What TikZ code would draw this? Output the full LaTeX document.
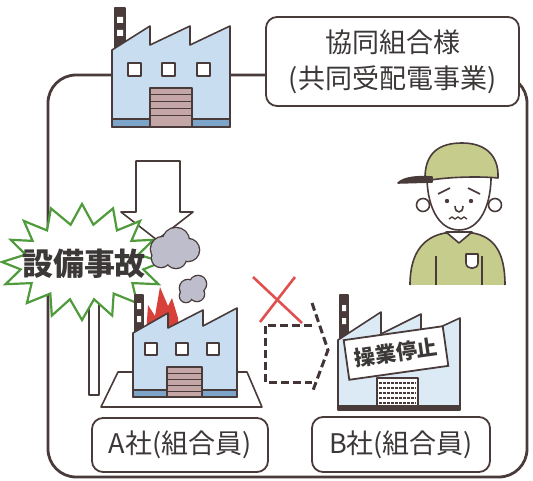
\documentclass[tikz,border=0pt]{standalone}
\usepackage{fontspec}
\newfontfamily\jp{Noto Sans CJK JP}
\usetikzlibrary{positioning}
\definecolor{ink}{HTML}{4A3B3B}
\definecolor{txt}{HTML}{3C3838}
\definecolor{wall}{HTML}{C8DEF0}
\definecolor{wallpale}{HTML}{DCEAF5}
\definecolor{band}{HTML}{7DA5CA}
\definecolor{door}{HTML}{C4A6A6}
\definecolor{leaf}{HTML}{4F9A3B}
\definecolor{smoke}{HTML}{BDBDCB}
\definecolor{fire}{HTML}{D8413A}
\definecolor{cross}{HTML}{E0504F}
\definecolor{olive}{HTML}{C5CC8C}
\begin{document}
\begin{tikzpicture}[x=1pt,y=-1pt,%
% common options for outlines:
line/.style = {draw=ink, line width=1.6pt, line join=round},
% common options for the dashed way round:
detour/.style = {draw=ink!90!black, line width=3pt, dash pattern=on 8pt off 4pt},
% common options for the rounded text boxes:
tag/.style = {draw=ink, line width=1.8pt, fill=white, rounded corners=11pt,
            align=center, text=txt, font=\jp\fontsize{27}{36}\selectfont}]
\useasboundingbox (0,0) rectangle (533,481);
% outer frame
\draw[ink, line width=2.8pt, rounded corners=28pt] (48,75) rectangle (527,477);
% pole and arrow down
\draw[line, fill=white] (89,300) rectangle (99,395);
\draw[line, fill=white] (136,161) -- (180,161) -- (180,212) -- (193,212)
  -- (157,240) -- (121,212) -- (136,212) -- cycle;
% accident burst
\draw[draw=leaf, line width=2.2pt, fill=white, line join=miter]
  plot[domain=0:360, samples=33]
  ({82+cos(\x)*(70+10*cos(16*\x)+3*sin(5*\x))}, {262+sin(\x)*(48+10*cos(16*\x))}) -- cycle;
\node[font=\jp\bfseries\fontsize{31}{31}\selectfont, text=txt] (accident) at (84,264) {設備事故};
% smoke
\foreach \px/\py/\r in {163/249/12, 176/241/13, 188/250/11, 176/258/10, 161/258/9,
                   188/288/8, 198/284/8, 197/294/7, 186/296/6}
  \draw[ink, line width=2.6pt] (\px,\py) circle (\r);
\foreach \px/\py/\r in {163/249/12, 176/241/13, 188/250/11, 176/258/10, 161/258/9,
                   188/288/8, 198/284/8, 197/294/7, 186/296/6}
  \fill[smoke] (\px,\py) circle (\r);
% fire
\fill[fire] (146,335) -- (148,305) -- (155,316) -- (160,287) -- (168,306)
  -- (172,298) -- (178,318) -- (178,335) -- cycle;
% plant A
\draw[line, fill=white] (101,407) -- (118,372) -- (247,372) -- (262,407) -- cycle;
\draw[line, fill=ink] (135,295) rectangle (143,336);
\fill[white] (137,303) rectangle (141,309) (137,316) rectangle (141,322);
\draw[line, fill=wall] (133,397) -- (133,333) -- (168,313) -- (168,328) -- (203,310)
  -- (203,326) -- (237,308) -- (237,397) -- cycle;
\draw[line, fill=band] (133,390) rectangle (237,397);
\foreach \x in {145,176,207}
  \draw[line, fill=white] (\x,343) rectangle ++(12,12);
\draw[line, fill=door] (167,367) rectangle (202,397);
\foreach \y in {373,379,385,391}
  \draw[ink, line width=1pt] (167,\y) -- (202,\y);
% plant of the union
\draw[line, fill=ink] (115,8) rectangle (125,50);
\fill[white] (117,17) rectangle (123,23) (117,30) rectangle (123,36);
\draw[line, fill=wall] (112,127) -- (112,50) -- (150,26) -- (150,45) -- (190,26)
  -- (190,45) -- (230,26) -- (230,127) -- cycle;
\draw[line, fill=band] (112,119) rectangle (230,127);
\foreach \x in {128,162,197}
  \draw[line, fill=white] (\x,63) rectangle ++(13,13);
\draw[line, fill=door] (150,88) rectangle (192,127);
\foreach \y in {95,102,109,116}
  \draw[ink, line width=1pt] (150,\y) -- (192,\y);
\node[tag, minimum width=253, minimum height=89] (coop) at (392.5,61.5)
  {協同組合様\\(共同受配電事業)};
% no supply to B
\draw[cross, line width=2.6pt] (253,277) -- (302,323) (295,277) -- (260,322);
\draw[detour] (312,325) -- (265,325) -- (265,382) -- (312,382);
\draw[detour] (312,303) -- (328,350) -- (312,393);
% plant B
\draw[line, fill=ink] (340,295) rectangle (348,340);
\fill[white] (342,305) rectangle (346,311) (342,318) rectangle (346,324);
\draw[line, fill=wallpale] (338,410) -- (338,340) -- (381,312) -- (381,334) -- (421,314)
  -- (421,336) -- (460,318) -- (460,410) -- cycle;
\draw[line, fill=white] (377,378) rectangle (418,408);
\foreach \y in {383,388,...,404}
  \draw[ink, line width=1.6pt, dash pattern=on 3pt off 1pt] (379,\y) -- (416,\y);
\fill[ink] (338,405) rectangle (460,411);
\node[draw=ink, line width=1.8pt, fill=white, rotate=8, minimum width=100,
  minimum height=40, text=txt, font=\jp\bfseries\fontsize{21}{21}\selectfont]
  (halt) at (396,353) {操業停止};
% members
\node[tag, minimum width=176, minimum height=54] (compA) at (180,445) {A社(組合員)};
\node[tag, minimum width=178, minimum height=55] (compB) at (401,444.5) {B社(組合員)};
% worker
\filldraw[line, fill=olive] (410,285) .. controls (410,252) and (424,237) .. (445,233)
  -- (473,233) .. controls (494,237) and (505,252) .. (505,285);
\draw[line, fill=white] (446,232) -- (459,243) -- (472,232) -- cycle;
\draw[line] (436,256) -- (436,285) (482,256) -- (482,285);
\draw[line, fill=white] (466,254) -- (466,263) .. controls (466,270) and (478,270) .. (478,263)
  -- (478,254) -- cycle;
\draw[line, fill=white] (423,205) circle (6.5) (495,205) circle (6.5);
\draw[line, fill=white] (427,172) .. controls (426,205) and (438,230) .. (459,230)
  .. controls (480,230) and (492,205) .. (491,172) -- cycle;
\draw[line, fill=olive] (425,181) .. controls (424,152) and (440,143) .. (462,143)
  .. controls (486,143) and (499,156) .. (498,178)
  .. controls (478,176) and (445,177) .. (425,181) -- cycle;
\draw[line, fill=ink] (398,183) .. controls (404,177) and (418,176) .. (432,177) -- (432,182) -- cycle;
\draw[line] (438,194) -- (450,188) (468,188) -- (480,194);
\fill[ink] (447,201) circle (2.2) (471,201) circle (2.2);
\draw[line] (455,206) .. controls (455,214) and (463,214) .. (463,206);
\draw[ink, line width=1.3pt] (449,219) -- (452,217) -- (455,219) -- (458,217) -- (461,219)
  -- (464,217) -- (467,219);
\end{tikzpicture}
\end{document}
